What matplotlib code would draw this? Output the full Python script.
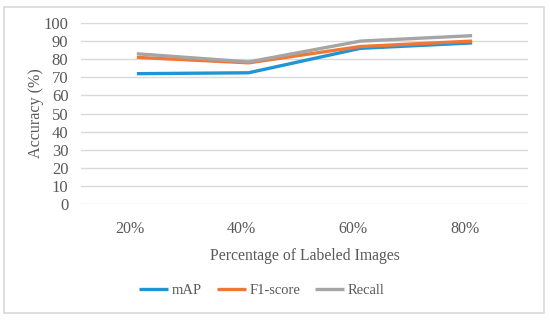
import matplotlib
matplotlib.use("Agg")
import matplotlib.pyplot as plt
from matplotlib.patches import Rectangle
from matplotlib.transforms import ScaledTranslation

categories = ["20%", "40%", "60%", "80%"]
map_vals = [72, 72.5, 86, 89]
f1_vals = [81, 78, 87, 90]
recall_vals = [83, 78.5, 90, 93]
yticks = list(range(0, 101, 10))

W, H = 550, 321
fig = plt.figure(figsize=(W/100, H/100), dpi=100)
plt.rcParams['font.family'] = ['Liberation Serif', 'DejaVu Serif']
txt = '#595959'

fig.patches.append(Rectangle((4/W, 1-313/H), 540/W, 306/H, transform=fig.transFigure,
                             fill=False, edgecolor='#d9d9d9', linewidth=1.2))

ax = fig.add_axes([81/W, 1-204/H, 447/W, 181/H])
x = list(range(len(categories)))
ax.plot(x, map_vals, color='#1f96d3', lw=2.4, label='mAP', solid_capstyle='butt')
ax.plot(x, f1_vals, color='#f07836', lw=2.4, label='F1-score', solid_capstyle='butt')
ax.plot(x, recall_vals, color='#a5a5a5', lw=2.4, label='Recall', solid_capstyle='butt')

ax.set_xlim(-0.5, 3.5)
ax.set_ylim(0, 100)
ax.set_yticks(yticks)
ax.set_xticks(x)
ax.set_xticklabels(categories)
ax.yaxis.grid(True, color='#d9d9d9', lw=1)
ax.set_axisbelow(True)
for s in ax.spines.values():
    s.set_visible(False)
ax.tick_params(axis='both', length=0, colors=txt)
ax.tick_params(axis='y', pad=9, labelsize=12)
ax.tick_params(axis='x', pad=12, labelsize=11.5)
off = ScaledTranslation(-7/100, 0, fig.dpi_scale_trans)
for lab in ax.get_xticklabels():
    lab.set_transform(lab.get_transform() + off)
ax.set_xlabel('Percentage of Labeled Images', color=txt, fontsize=11.3, labelpad=8)
ax.set_ylabel('Accuracy (%)', color=txt, fontsize=11.6)
ax.yaxis.set_label_coords((44-81)/447, 0.5)

leg = ax.legend(loc='center', bbox_to_anchor=((262-81)/447, -0.48), ncol=3, frameon=False,
                fontsize=10.5, handlelength=2.0, columnspacing=1.0, handletextpad=0.25)
for t in leg.get_texts():
    t.set_color(txt)

fig.savefig('out.png', dpi=100)
